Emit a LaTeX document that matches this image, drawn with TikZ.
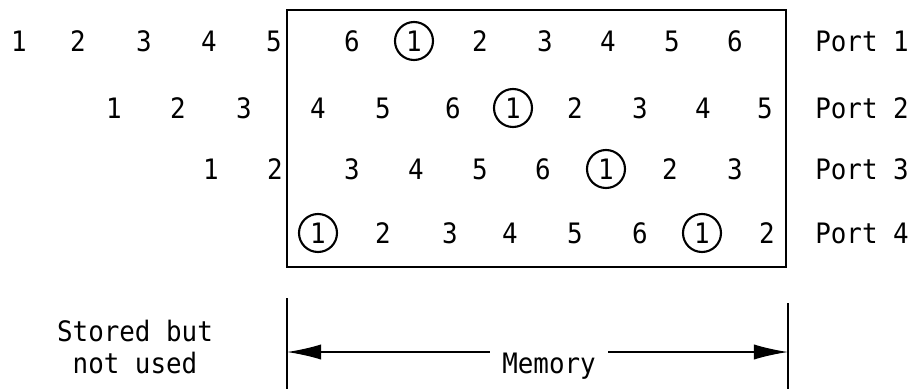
\documentclass[tikz,border=0pt]{standalone}
\usepackage{fontspec}
\setmainfont{DejaVu Sans Mono}[FakeStretch=0.92]
\usetikzlibrary{arrows.meta}
\begin{document}
\begin{tikzpicture}[x=0.025cm, y=-0.025cm, >={Latex[length=0.85cm,width=0.38cm]},
  every node/.style={font=\fontsize{20}{23.4}\selectfont, inner sep=0pt},
  ring/.style={draw, circle, line width=1.5pt, minimum size=0.95cm}]
\useasboundingbox (0,0) rectangle (916,389);
\def\ra{41}
\def\rb{108}
\def\rc{169}
\def\rd{233}
% memory box
\coordinate (BL) at (287,267);
\coordinate (TR) at (786,10);
\draw[line width=1.8pt] (BL) rectangle (TR);
% port 1
\node (a1)  at (19,\ra)  {1};
\node (a2)  at (78,\ra)  {2};
\node (a3)  at (144,\ra) {3};
\node (a4)  at (209,\ra) {4};
\node (a5)  at (274,\ra) {5};
\node (a6)  at (352,\ra) {6};
\node[ring] (a7) at (414,\ra) {1};
\node (a8)  at (480,\ra) {2};
\node (a9)  at (545,\ra) {3};
\node (a10) at (608,\ra) {4};
\node (a11) at (672,\ra) {5};
\node (a12) at (735,\ra) {6};
\node[anchor=west] (p1) at (815,\ra) {Port 1};
% port 2
\node (b1)  at (114,\rb) {1};
\node (b2)  at (178,\rb) {2};
\node (b3)  at (244,\rb) {3};
\node (b4)  at (318,\rb) {4};
\node (b5)  at (383,\rb) {5};
\node (b6)  at (453,\rb) {6};
\node[ring] (b7) at (513,\rb) {1};
\node (b8)  at (575,\rb) {2};
\node (b9)  at (640,\rb) {3};
\node (b10) at (703,\rb) {4};
\node (b11) at (765,\rb) {5};
\node[anchor=west] (p2) at (815,\rb) {Port 2};
% port 3
\node (c1)  at (211,\rc) {1};
\node (c2)  at (275,\rc) {2};
\node (c3)  at (352,\rc) {3};
\node (c4)  at (416,\rc) {4};
\node (c5)  at (480,\rc) {5};
\node (c6)  at (543,\rc) {6};
\node[ring] (c7) at (606,\rc) {1};
\node (c8)  at (670,\rc) {2};
\node (c9)  at (735,\rc) {3};
\node[anchor=west] (p3) at (815,\rc) {Port 3};
% port 4
\node[ring] (d1) at (318,\rd) {1};
\node (d2)  at (383,\rd) {2};
\node (d3)  at (450,\rd) {3};
\node (d4)  at (510,\rd) {4};
\node (d5)  at (575,\rd) {5};
\node (d6)  at (640,\rd) {6};
\node[ring] (d7) at (702,\rd) {1};
\node (d8)  at (767,\rd) {2};
\node[anchor=west] (p4) at (815,\rd) {Port 4};
% bottom part
\node[align=center] (unused) at (135,347) {Stored but\\not used};
\coordinate (L0) at (287,298);
\coordinate (L1) at (287,389);
\coordinate (R0) at (788,303);
\coordinate (R1) at (788,389);
\coordinate (ML) at (287,352);
\coordinate (MR) at (788,352);
\draw[line width=1.4pt] (L0) -- (L1);
\draw[line width=1.4pt] (R0) -- (R1);
\node[anchor=base, inner xsep=0.3cm] (mem) at (549,373) {Memory};
\draw[->, line width=1pt] (mem.west |- ML) -- (ML);
\draw[->, line width=1pt] (mem.east |- MR) -- (MR);
\end{tikzpicture}
\end{document}
